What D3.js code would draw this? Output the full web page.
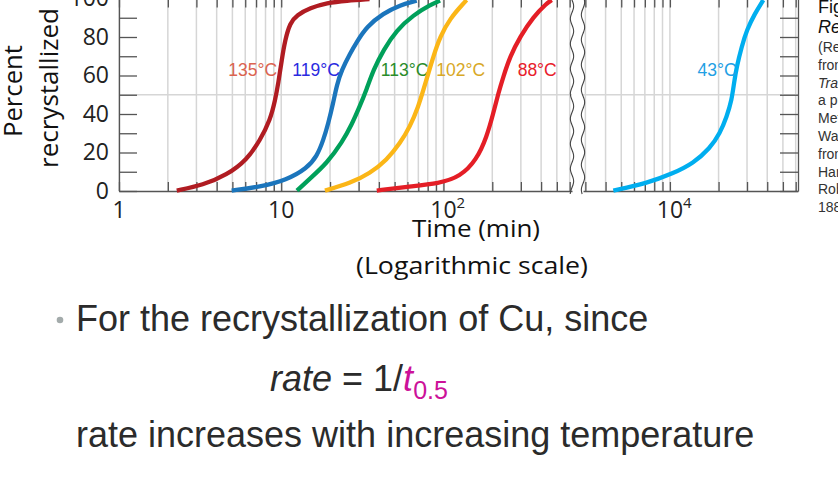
<!DOCTYPE html>
<html>
<head>
<meta charset="utf-8">
<script src="https://cdn.jsdelivr.net/npm/d3@7"></script>
<style>
  body { margin: 0; background: #fff; }
  svg { display: block; overflow: hidden; }
</style>
</head>
<body>
<svg id="canvas" width="838" height="499"></svg>
<script>
// ************************************************************************************************** //
// Data (time in min, percent recrystallized)

var series_names = ['135°C', '119°C', '113°C', '102°C', '88°C', '43°C'];

var t_135 = [2.27, 3.30, 4.61, 6.14, 7.42, 8.55, 9.18, 9.60, 10.07, 10.56, 11.33, 12.46, 15.07, 19.07, 25.3, 35];
var p_135 = [0.2, 3.1, 8.3, 16.1, 26.5, 36.9, 47.3, 56.1, 68, 78.4, 87.3, 91.4, 95.1, 97.7, 98.9, 99.7];

var t_119 = [4.95, 7.40, 10.8, 14.4, 16.6, 18.2, 19.5, 20.9, 22.0, 23.6, 26.6, 29.2, 33.6, 42.6, 54, 68.4];
var p_119 = [0.2, 2.2, 5.7, 11.8, 18, 26.5, 35.2, 45.6, 55, 62.9, 71.5, 77.4, 85.4, 92.3, 96.6, 98.9];

var t_113 = [12.5, 15.1, 19.1, 23.8, 27.2, 30.4, 33.5, 37.0, 42.6, 51.5, 65.2, 82.7, 95.3];
var p_113 = [0.2, 6.6, 14.4, 25.5, 34.5, 43.8, 52.5, 62.9, 73.2, 83.6, 91.4, 96.6, 98.9];

var t_102 = [18.6, 26.6, 35.3, 44.7, 54.0, 62.2, 70.0, 75.2, 80.7, 86.6, 95.3, 110, 133, 139];
var p_102 = [0.2, 4, 9.2, 16.1, 24.8, 33.4, 43.8, 52.5, 61.1, 69.8, 80.2, 89.7, 97.5, 99.2];

var t_88 = [38.8, 59.4, 95, 126.6, 160, 185, 203, 218, 234, 257, 297, 358, 433, 465];
var p_88 = [0.2, 2.2, 4, 7.4, 16.1, 28.2, 40.4, 50.8, 59.4, 69.8, 80.2, 90.5, 97.5, 99.2];

var t_43 = [4466, 7184, 10500, 13955, 17707, 20410, 22460, 24120, 24910, 25900, 27800, 29870, 33600, 37820];
var p_43 = [0.2, 4, 9.2, 14.4, 22.2, 30, 38.6, 47.3, 56, 64.6, 75, 83.6, 92.3, 99.2];

// where each temperature label ends (time) and sits (percent)
var label_t = [9.43, 23.0, 80.7, 180.5, 499.5, 25900];
var label_p = 59.5;

var y_ticks = [0, 20, 40, 60, 80, 100];
var y_minor = [10, 30, 50, 70, 90];
var x_labels_left = [[1, '1', ''], [10, '10', ''], [100, '10', '2']];
var x_labels_right = [[10000, '10', '4']];

var left_domain = [1, 620];
var right_domain = [2900, 62000];

var fig_lines = ['(Reprinted', 'from', 'Transactions', 'a publication', 'Metallurgical', 'Warrendale', 'from', 'Hansen', 'Robert', '1888'];
var fig_italic = [false, false, true, false, false, false, false, false, false, false];

var colors = ['#b01c22', '#1b75bc', '#00a05a', '#fbb617', '#e41e26', '#00aeef'];
var label_colors = ['#dc6450', '#2a2ae0', '#2a8c2a', '#d8a826', '#e8202a', '#22a0e4'];

// ************************************************************************************************** //
// Setup

var svg = d3.select('#canvas');
var axis_font = "'Open Sans', 'DejaVu Sans', sans-serif";
var body_font = "'Liberation Sans', Arial, sans-serif";

var y = d3.scaleLinear().domain([0, 100]).range([191, -1.5]);
var xL = d3.scaleLog().domain(left_domain).range([119, 572]);
var xR = d3.scaleLog().domain(right_domain).range([583, 798]);

var series = [
  { t: t_135, p: p_135, scale: xL },
  { t: t_119, p: p_119, scale: xL },
  { t: t_113, p: p_113, scale: xL },
  { t: t_102, p: p_102, scale: xL },
  { t: t_88,  p: p_88,  scale: xL },
  { t: t_43,  p: p_43,  scale: xR }
];

// ************************************************************************************************** //
// Grid + ticks for one panel

function drawPanel(scale){
  var g = svg.append('g');
  var ticks = scale.ticks();
  var r = scale.range();

  g.selectAll('line.vgrid').data(ticks).enter().append('line')
    .attr('x1', d => scale(d)).attr('x2', d => scale(d))
    .attr('y1', y(100)).attr('y2', y(0))
    .style('stroke', '#d6d6d6').style('stroke-width', 1.5);

  g.append('line')
    .attr('x1', r[0]).attr('x2', r[1]).attr('y1', y(50)).attr('y2', y(50))
    .style('stroke', '#d6d6d6').style('stroke-width', 1.5);

  var bottom = g.append('g').attr('transform', 'translate(0,' + y(0) + ')')
    .call(d3.axisBottom(scale).tickValues(ticks).tickSizeInner(-9).tickSizeOuter(0).tickFormat(''));
  var top = g.append('g').attr('transform', 'translate(0,' + y(100) + ')')
    .call(d3.axisTop(scale).tickValues(ticks).tickSizeInner(-9).tickSizeOuter(0).tickFormat(''));

  [bottom, top].forEach(function(a){
    a.selectAll('line').style('stroke', '#555').style('stroke-width', 1.3);
    a.select('.domain').style('stroke', '#555').style('stroke-width', 1.3);
  });
  return g;
}

drawPanel(xL);
drawPanel(xR);

// y axis on the left, ticks pointing in
var yAxis = svg.append('g').attr('transform', 'translate(' + xL.range()[0] + ',0)')
  .call(d3.axisLeft(y).tickValues(y_ticks).tickSizeInner(-18).tickSizeOuter(0).tickPadding(10));
svg.append('g').attr('transform', 'translate(' + xL.range()[0] + ',0)')
  .call(d3.axisLeft(y).tickValues(y_minor).tickSizeInner(-18).tickSizeOuter(0).tickFormat(''))
  .call(g => g.select('.domain').remove())
  .selectAll('line').style('stroke', '#555').style('stroke-width', 1.3);
yAxis.selectAll('line').style('stroke', '#555').style('stroke-width', 1.3);
yAxis.select('.domain').style('stroke', '#555').style('stroke-width', 1.3);
yAxis.selectAll('text').style('font-family', axis_font).style('font-size', '23px').style('fill', '#222');

// right side ticks of the right panel
var yRight = svg.append('g').attr('transform', 'translate(' + xR.range()[1] + ',0)')
  .call(d3.axisRight(y).tickValues(y_ticks.concat(y_minor)).tickSizeInner(-18).tickSizeOuter(0).tickFormat(''));
yRight.selectAll('line').style('stroke', '#555').style('stroke-width', 1.3);
yRight.select('.domain').style('stroke', '#555').style('stroke-width', 1.3);

// ************************************************************************************************** //
// Axis break (two wavy lines)

var wave = d3.line().x(d => d[0]).y(d => d[1]).curve(d3.curveBasis);
[xL.range()[1], xR.range()[0]].forEach(function(x0, k){
  var pts = d3.range(-4, 196, 3).map(v => [x0 + 1.8 * Math.sin((v + k * 4) / 25 * 2 * Math.PI), v]);
  svg.append('path').attr('d', wave(pts))
    .style('fill', 'none').style('stroke', '#444').style('stroke-width', 1.1);
});

// ************************************************************************************************** //
// Curves

series.forEach(function(s, i){
  var data = s.t.map((t, j) => ({ t: t, p: s.p[j] }));
  var line_gen = d3.line().x(d => s.scale(d.t)).y(d => y(d.p)).curve(d3.curveBasis);
  svg.append('path').attr('d', line_gen(data))
    .style('fill', 'none').style('stroke', colors[i]).style('stroke-width', 4.3);

  svg.append('text')
    .attr('x', s.scale(label_t[i])).attr('y', y(label_p))
    .attr('text-anchor', 'end')
    .style('font-family', body_font).style('font-size', '17.5px')
    .style('fill', label_colors[i])
    .text(series_names[i]);
});

// ************************************************************************************************** //
// X tick labels

function xLabel(scale, d){
  var t = svg.append('text')
    .attr('x', scale(d[0])).attr('y', 218)
    .style('font-family', axis_font).style('font-size', '23px').style('fill', '#222');
  t.append('tspan').text(d[1]);
  if(d[2] != '') t.append('tspan').attr('dy', -10).style('font-size', '15px').text(d[2]);
  var w0 = t.select('tspan').node().getComputedTextLength();
  t.attr('x', scale(d[0]) - w0 / 2);
}
x_labels_left.forEach(d => xLabel(xL, d));
x_labels_right.forEach(d => xLabel(xR, d));

svg.append('text').attr('x', 476).attr('y', 237).attr('text-anchor', 'middle')
  .style('font-family', axis_font).style('font-size', '24px').style('fill', '#111')
  .attr('textLength', 128).attr('lengthAdjust', 'spacingAndGlyphs')
  .text('Time (min)');
svg.append('text').attr('x', 472).attr('y', 274).attr('text-anchor', 'middle')
  .style('font-family', axis_font).style('font-size', '24px').style('fill', '#111')
  .attr('textLength', 232).attr('lengthAdjust', 'spacingAndGlyphs')
  .text('(Logarithmic scale)');

// y title
svg.append('text').attr('transform', 'translate(22,91) rotate(-90)').attr('text-anchor', 'middle')
  .style('font-family', axis_font).style('font-size', '25px').style('fill', '#111')
  .attr('textLength', 92).attr('lengthAdjust', 'spacingAndGlyphs')
  .text('Percent');
svg.append('text').attr('transform', 'translate(58,88) rotate(-90)').attr('text-anchor', 'middle')
  .style('font-family', axis_font).style('font-size', '25px').style('fill', '#111')
  .attr('textLength', 160).attr('lengthAdjust', 'spacingAndGlyphs')
  .text('recrystallized');

// ************************************************************************************************** //
// Figure caption (cut off at the right edge)

svg.append('text').attr('x', 818).attr('y', 13)
  .style('font-family', body_font).style('font-size', '18px').style('fill', '#111').text('Figure');
svg.append('text').attr('x', 818).attr('y', 33)
  .style('font-family', body_font).style('font-size', '18px').style('font-style', 'italic').style('fill', '#111').text('Recrystallization');
fig_lines.forEach(function(d, i){
  svg.append('text').attr('x', 818).attr('y', 52 + i * 17.8)
    .style('font-family', body_font).style('font-size', '14px').style('fill', '#333')
    .style('font-style', fig_italic[i] ? 'italic' : 'normal')
    .text(d);
});

// ************************************************************************************************** //
// Slide text

svg.append('circle').attr('cx', 60).attr('cy', 320).attr('r', 3.3).style('fill', '#a3abab');
svg.append('text').attr('x', 76).attr('y', 331)
  .style('font-family', body_font).style('font-size', '36px').style('fill', '#2b2b2b')
  .text('For the recrystallization of Cu, since');

var eq = svg.append('text').attr('x', 270).attr('y', 391)
  .style('font-family', body_font).style('font-size', '36px').style('fill', '#2b2b2b');
eq.append('tspan').style('font-style', 'italic').text('rate');
eq.append('tspan').text(' = 1/');
eq.append('tspan').style('font-style', 'italic').style('fill', '#cc1199').text('t');
eq.append('tspan').attr('dy', 8).style('font-size', '25px').style('fill', '#cc1199').text('0.5');

svg.append('text').attr('x', 76).attr('y', 447)
  .style('font-family', body_font).style('font-size', '36px').style('fill', '#2b2b2b')
  .text('rate increases with increasing temperature');
</script>
</body>
</html>
